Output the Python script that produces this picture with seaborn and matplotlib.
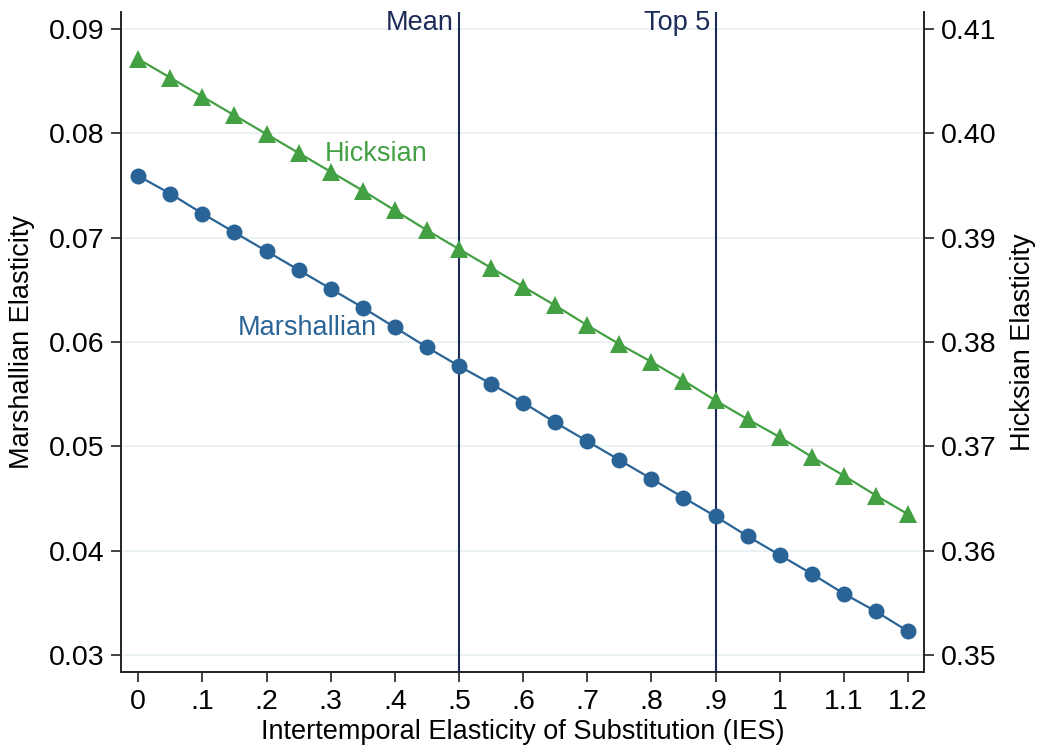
import matplotlib
matplotlib.use("Agg")
import matplotlib.pyplot as plt
import pandas as pd
import seaborn as sns

ies = [0.00, 0.05, 0.10, 0.15, 0.20, 0.25, 0.30, 0.35, 0.40, 0.45, 0.50, 0.55, 0.60,
       0.65, 0.70, 0.75, 0.80, 0.85, 0.90, 0.95, 1.00, 1.05, 1.10, 1.15, 1.20]
marshallian = [0.0759, 0.0742, 0.0723, 0.0705, 0.0687, 0.0669, 0.0651, 0.0633, 0.0614,
               0.0595, 0.0577, 0.0560, 0.0542, 0.0523, 0.0505, 0.0487, 0.0469, 0.0451,
               0.0433, 0.0414, 0.0396, 0.0378, 0.0359, 0.0342, 0.0323]
hicksian = [0.4071, 0.4053, 0.4035, 0.4017, 0.3999, 0.3981, 0.3963, 0.3945, 0.3926,
            0.3907, 0.3889, 0.3871, 0.3853, 0.3835, 0.3816, 0.3798, 0.3781, 0.3763,
            0.3744, 0.3726, 0.3709, 0.3690, 0.3672, 0.3653, 0.3635]
ref_lines = [0.5, 0.9]
ref_labels = ["Mean", "Top 5"]
x_ticks = [0, 0.1, 0.2, 0.3, 0.4, 0.5, 0.6, 0.7, 0.8, 0.9, 1.0, 1.1, 1.2]
x_ticklabels = ["0", ".1", ".2", ".3", ".4", ".5", ".6", ".7", ".8", ".9", "1", "1.1", "1.2"]
left_ticks = [0.03, 0.04, 0.05, 0.06, 0.07, 0.08, 0.09]
right_ticks = [0.35, 0.36, 0.37, 0.38, 0.39, 0.40, 0.41]

blue = "#2a6496"
green = "#43a043"
navy = "#1c2b58"
grid_color = "#e8f0f2"

sns.set_theme(style="ticks")
plt.rcParams["font.family"] = ["Liberation Sans", "DejaVu Sans"]
plt.rcParams["text.color"] = "black"
plt.rcParams["axes.labelcolor"] = "black"
plt.rcParams["xtick.color"] = "black"
plt.rcParams["ytick.color"] = "black"

df = pd.DataFrame({"ies": ies, "marshallian": marshallian, "hicksian": hicksian})

fig = plt.figure(figsize=(10.4, 7.5), dpi=100)
ax = fig.add_axes([0.1163, 0.104, 0.7722, 0.88])
ax2 = ax.twinx()

sns.lineplot(data=df, x="ies", y="marshallian", ax=ax, color=blue, marker="o",
             markersize=11.5, markeredgewidth=0, linewidth=1.6, zorder=3)
sns.lineplot(data=df, x="ies", y="hicksian", ax=ax2, color=green, marker="^",
             markersize=12.5, markeredgewidth=0, linewidth=1.6, zorder=3)

ax.set_xlim(-0.027, 1.225)
ax.set_ylim(0.0284, 0.0916)
ax2.set_ylim(0.3484, 0.4116)

ax.set_yticks(left_ticks)
ax.set_yticklabels([f"{t:.2f}" for t in left_ticks])
ax2.set_yticks(right_ticks)
ax2.set_yticklabels([f"{t:.2f}" for t in right_ticks])
ax.set_xticks(x_ticks)
ax.set_xticklabels(x_ticklabels)

for y in left_ticks:
    ax.axhline(y, color=grid_color, linewidth=1.2, zorder=0)

for x, lab in zip(ref_lines, ref_labels):
    ax.axvline(x, color=navy, linewidth=1.5, zorder=2)
    ax.annotate(lab, xy=(x, 1.0), xycoords=("data", "axes fraction"),
                xytext=(-4, 1.5), textcoords="offset points", ha="right", va="top",
                color=navy, fontsize=19.5)

ax.text(0.29, 0.0780, "Hicksian", color=green, fontsize=19.5, ha="left", va="center")
ax.text(0.155, 0.0613, "Marshallian", color=blue, fontsize=19.5, ha="left", va="center")

ax.set_xlabel("Intertemporal Elasticity of Substitution (IES)", fontsize=19.5, labelpad=3)
ax.set_ylabel("Marshallian Elasticity", fontsize=19.5, labelpad=10)
ax2.set_ylabel("Hicksian Elasticity", fontsize=19.5, labelpad=10)

for a in (ax, ax2):
    a.tick_params(axis="both", labelsize=20.5, length=7, width=1.2, color="#222222", pad=5)
    a.spines["top"].set_visible(False)
    for s in ("left", "right", "bottom"):
        a.spines[s].set_linewidth(1.2)
        a.spines[s].set_color("#222222")

fig.savefig("out.png", dpi=100)
